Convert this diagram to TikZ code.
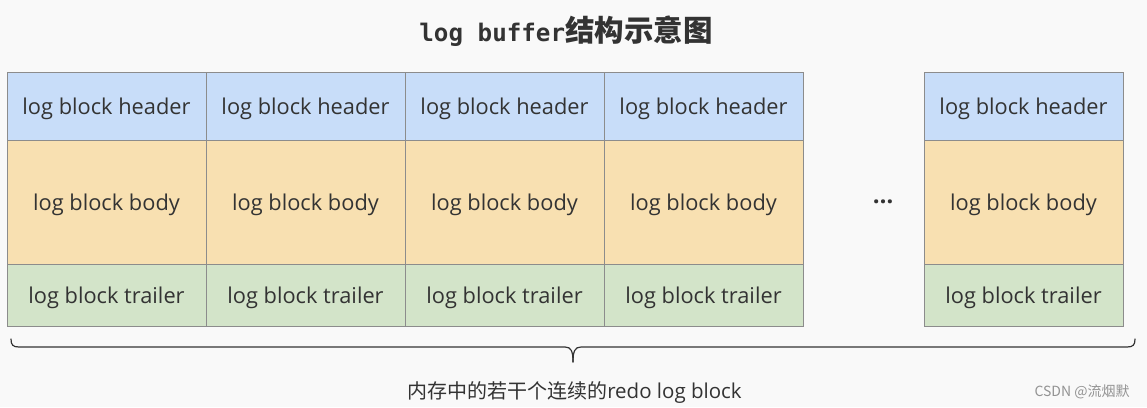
\documentclass[tikz,border=0pt]{standalone}
\usepackage{fontspec}
\setmainfont{Open Sans}
\newfontfamily\cjk{Noto Sans CJK SC}
\newfontfamily\mono{DejaVu Sans Mono}
\usetikzlibrary{positioning}

\definecolor{headblue}{RGB}{200,221,249}
\definecolor{bodyorange}{RGB}{248,224,177}
\definecolor{trailgreen}{RGB}{211,228,201}
\definecolor{gridline}{RGB}{140,140,140}
\definecolor{inktext}{RGB}{51,51,51}
\definecolor{paper}{RGB}{249,249,249}

\tikzset{
  cell/.style={draw=gridline, line width=0.9pt, minimum width=199pt, inner sep=0pt,
    outer sep=0pt, text=inktext, text depth=0pt, font=\fontsize{21.8}{26}\selectfont},
  headcell/.style={cell, fill=headblue, minimum height=68pt},
  bodycell/.style={cell, fill=bodyorange, minimum height=124pt},
  trailcell/.style={cell, fill=trailgreen, minimum height=62pt},
  bracestyle/.style={draw=inktext, line width=1.2pt, line cap=round},
}

\begin{document}
\begin{tikzpicture}[x=1pt,y=-1pt]
  \fill[paper] (0,0) rectangle (1147,407);
  \useasboundingbox (0,0) rectangle (1147,407);
  % title
  \node[text=inktext] (title) at (566,31)
    {{\mono\bfseries\fontsize{24.2}{28}\selectfont log buffer}{\cjk\bfseries\fontsize{29.5}{32}\selectfont 结构示意图}};
  % blocks
  \foreach \i/\x in {1/106.5,2/305.5,3/504.5,4/703.5,5/1023.5} {
    \node[headcell] (h\i) at (\x,106) {log block header};
    \node[bodycell, below=0pt of h\i] (b\i) {log block body};
    \node[trailcell, below=0pt of b\i] (t\i) {log block trailer};
  }
  \node[text=inktext, font=\bfseries\fontsize{24}{28}\selectfont] (dots) at (883,202) {…};
  % brace
  \coordinate (braceL) at (11,339);
  \coordinate (braceR) at (1135,339);
  \coordinate (tip) at (573,362);
  \draw[bracestyle] (braceL) .. controls ++(0,6) and ++(-6,0) .. ++(8,8) -- ++(546,0)
    .. controls ++(6,0) and ++(0,-11) .. (tip);
  \draw[bracestyle] (braceR) .. controls ++(0,6) and ++(6,0) .. ++(-8,8) -- ++(-546,0)
    .. controls ++(-6,0) and ++(0,-11) .. (tip);
  \node[text=inktext] (memlabel) at (574.5,393)
    {{\cjk\fontsize{20}{24}\selectfont 内存中的若干个连续的}{\fontsize{20.5}{24}\selectfont redo log block}};
  \node[text=gray!85, font=\cjk\fontsize{14}{16}\selectfont] (mark) at (1082,392) {CSDN @流烟默};
\end{tikzpicture}
\end{document}
